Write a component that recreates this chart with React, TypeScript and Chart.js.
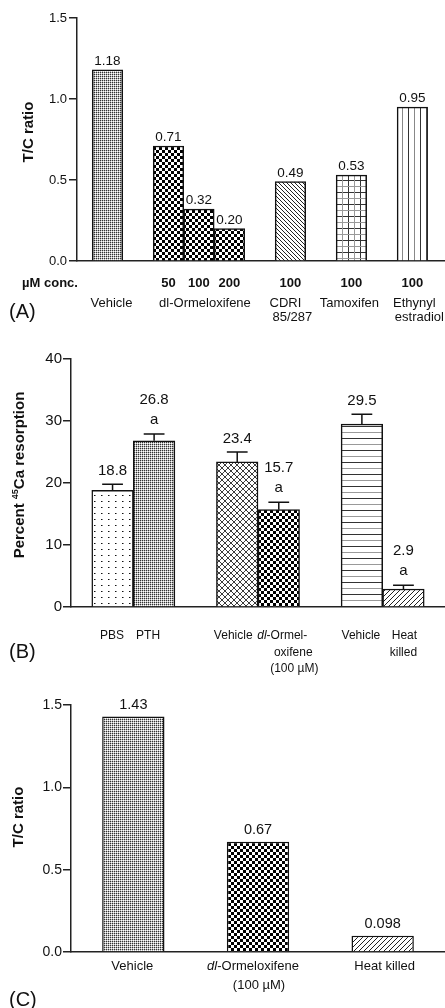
import React, { useEffect, useRef } from 'react';
import { Chart, registerables } from 'chart.js';

Chart.register(...registerables);

const FONT = '"Liberation Sans", Arial, Helvetica, sans-serif';

// ---------- Panel A ----------
const aSlots = [0, 2, 3, 4, 6, 8, 10];
const aValues = [1.18, 0.71, 0.32, 0.2, 0.49, 0.53, 0.95];
const aValueLabels = ['1.18', '0.71', '0.32', '0.20', '0.49', '0.53', '0.95'];
const aConcTitle = 'µM conc.';
const aConc = ['', '50', '100', '200', '100', '100', '100'];
const aPatterns = ['fine', 'checker', 'checker', 'checker', 'backslash', 'grid', 'vlines'];
const aGroupSlots = [0, 3, 6, 8, 10];
const aGroupLines = [['Vehicle'], ['dl-Ormeloxifene'], ['CDRI', '85/287'], ['Tamoxifen'], ['Ethynyl', 'estradiol']];
const aYTicks = [0, 0.5, 1.0, 1.5];
const aYTitle = 'T/C ratio';

// ---------- Panel B ----------
const bSlots = [0, 1, 3, 4, 6, 7];
const bValues = [18.8, 26.8, 23.4, 15.7, 29.5, 2.9];
const bErrors = [1.0, 1.1, 1.6, 1.2, 1.6, 0.6];
const bValueLabels = ['18.8', '26.8', '23.4', '15.7', '29.5', '2.9'];
const bSignif = ['', 'a', '', 'a', '', 'a'];
const bPatterns = ['dots', 'fine', 'cross', 'checker', 'hlines', 'slash'];
const bTickLines = [['PBS'], ['PTH'], ['Vehicle'], ['dl-Ormel-', 'oxifene', '(100 µM)'], ['Vehicle'], ['Heat', 'killed']];
const bYTicks = [0, 10, 20, 30, 40];

// ---------- Panel C ----------
const cCategories = ['Vehicle', 'dl-Ormeloxifene (100 µM)', 'Heat killed'];
const cValues = [1.43, 0.67, 0.098];
const cValueLabels = ['1.43', '0.67', '0.098'];
const cPatterns = ['fine', 'checker', 'slash'];
const cTickLines = [['Vehicle'], ['dl-Ormeloxifene', '(100 µM)'], ['Heat killed']];
const cYTicks = [0, 0.5, 1.0, 1.5];

function makePattern(kind: string): CanvasPattern {
  const dims: Record<string, [number, number]> = {
    fine: [2, 2], checker: [6, 6], cross: [6, 6], dots: [7, 6], backslash: [4, 4],
    slash: [5, 5], grid: [12, 12], vlines: [12, 1], hlines: [1, 12],
  };
  const [w, h] = dims[kind];
  const c = document.createElement('canvas');
  c.width = w; c.height = h;
  const g = c.getContext('2d')!;
  g.fillStyle = '#fff'; g.fillRect(0, 0, w, h);
  const px = (x: number, y: number, col: string) => { g.fillStyle = col; g.fillRect(x, y, 1, 1); };
  switch (kind) {
    case 'fine': px(0, 0, '#333'); px(1, 0, '#bbb'); px(0, 1, '#bbb'); break;
    case 'checker': g.fillStyle = '#000'; g.fillRect(0, 0, 3, 3); g.fillRect(3, 3, 3, 3); break;
    case 'cross': for (let i = 0; i < 6; i++) { px(i, i, '#333'); px(5 - i, i, '#444'); } break;
    case 'dots': px(3, 3, '#111'); px(4, 3, '#888'); break;
    case 'backslash': for (let i = 0; i < 4; i++) px(i, i, '#222'); break;
    case 'slash': for (let i = 0; i < 5; i++) px(4 - i, i, '#222'); break;
    case 'grid':
      g.fillStyle = '#333'; g.fillRect(0, 0, 12, 1); g.fillRect(0, 0, 1, 12);
      g.fillStyle = '#999'; g.fillRect(0, 6, 12, 1); g.fillRect(6, 0, 1, 12); break;
    case 'vlines': px(0, 0, '#333'); px(6, 0, '#888'); break;
    case 'hlines': px(0, 0, '#333'); px(0, 6, '#999'); break;
  }
  return g.createPattern(c, 'repeat')!;
}

function yScale(ticks: number[], min: number, max: number, size: number, width: number, pad: number, fmt: (v: number) => string) {
  return {
    min, max,
    afterFit: (s: any) => { s.width = width; },
    afterBuildTicks: (s: any) => { s.ticks = ticks.map((v) => ({ value: v })); },
    grid: { display: true, drawOnChartArea: false, drawTicks: true, tickLength: 8, color: '#222', lineWidth: 1.5 },
    border: { display: true, color: '#222', width: 1.5 },
    ticks: { font: { family: FONT, size }, color: '#111', padding: pad, callback: (v: any) => fmt(Number(v)) },
  };
}

function drawRich(ctx: CanvasRenderingContext2D, text: string, italicDl: boolean, cx: number, y: number, size: number) {
  const parts: [string, boolean][] = italicDl && text.startsWith('dl') ? [['dl', true], [text.slice(2), false]] : [[text, false]];
  const fonts = parts.map(([, it]) => `${it ? 'italic ' : ''}${size}px ${FONT}`);
  const widths = parts.map(([t], i) => { ctx.font = fonts[i]; return ctx.measureText(t).width; });
  let x = cx - widths.reduce((a, b) => a + b, 0) / 2;
  ctx.textAlign = 'left';
  parts.forEach(([t], i) => { ctx.font = fonts[i]; ctx.fillText(t, x, y); x += widths[i]; });
}

function drawVTitle(ctx: CanvasRenderingContext2D, parts: [string, number, number][], bx: number, cy: number) {
  ctx.save();
  ctx.translate(bx, cy);
  ctx.rotate(-Math.PI / 2);
  ctx.textAlign = 'left';
  ctx.textBaseline = 'alphabetic';
  const widths = parts.map(([t, s]) => { ctx.font = `bold ${s}px ${FONT}`; return ctx.measureText(t).width; });
  let x = -widths.reduce((a, b) => a + b, 0) / 2;
  parts.forEach(([t, s, rise], i) => { ctx.font = `bold ${s}px ${FONT}`; ctx.fillText(t, x, -rise); x += widths[i]; });
  ctx.restore();
}

const commonPlugins = { legend: { display: false }, tooltip: { enabled: false }, title: { display: false } };

function buildA(): any {
  const H = 330, top = 18, bottom = 261;
  const plugin = {
    id: 'aText',
    afterDraw(chart: any) {
      const ctx: CanvasRenderingContext2D = chart.ctx;
      const xs = chart.scales.x;
      const area = chart.chartArea;
      const meta = chart.getDatasetMeta(0);
      ctx.save();
      ctx.fillStyle = '#111';
      ctx.textAlign = 'center';
      ctx.textBaseline = 'alphabetic';
      ctx.font = `13.5px ${FONT}`;
      meta.data.forEach((el: any, i: number) => ctx.fillText(aValueLabels[i], el.x, el.y - 5));
      ctx.textBaseline = 'middle';
      ctx.font = `bold 13px ${FONT}`;
      const rowY = area.bottom + 22;
      ctx.fillText(aConcTitle, 50, rowY);
      aSlots.forEach((s, i) => { if (aConc[i]) ctx.fillText(aConc[i], xs.getPixelForValue(s), rowY); });
      const dx1 = [4, 6, -5, -2, 2];
      const dx2 = [0, 0, 2, 0, 7];
      aGroupSlots.forEach((s, i) => {
        const x = xs.getPixelForValue(s);
        const lines = aGroupLines[i];
        drawRich(ctx, lines[0], false, x + dx1[i], area.bottom + 42, 13);
        if (lines[1]) drawRich(ctx, lines[1], false, x + dx2[i], area.bottom + 56, 13);
      });
      drawVTitle(ctx, [[aYTitle, 15, 0]], 33, 132);
      ctx.font = `20px ${FONT}`;
      ctx.textAlign = 'left';
      ctx.fillText('(A)', 9, 312);
      ctx.restore();
    },
  };
  return {
    H,
    config: {
      type: 'bar',
      data: {
        datasets: [{
          data: aSlots.map((s, i) => ({ x: s, y: aValues[i] })),
          backgroundColor: aPatterns.map(makePattern),
          borderColor: '#111', borderWidth: 1.5,
          barPercentage: 1, categoryPercentage: 1,
        }],
      },
      options: {
        responsive: false, animation: false, devicePixelRatio: 1, events: [],
        layout: { padding: { top, left: 0, right: 0, bottom: 0 } },
        plugins: commonPlugins,
        scales: {
          x: {
            type: 'linear', min: -1, max: 11.07, offset: false,
            afterFit: (s: any) => { s.height = H - bottom; },
            ticks: { display: false }, grid: { display: false },
            border: { display: true, color: '#222', width: 1.5 },
          },
          y: yScale(aYTicks, 0, 1.5, 13, 77, 2, (v) => v.toFixed(1)),
        },
      },
      plugins: [plugin],
    },
  };
}

function buildB(): any {
  const H = 345, top = 29, bottom = 277;
  const plugin = {
    id: 'bText',
    afterDraw(chart: any) {
      const ctx: CanvasRenderingContext2D = chart.ctx;
      const xs = chart.scales.x;
      const ys = chart.scales.y;
      const area = chart.chartArea;
      const meta = chart.getDatasetMeta(0);
      ctx.save();
      ctx.strokeStyle = '#111';
      ctx.lineWidth = 1.5;
      ctx.fillStyle = '#111';
      meta.data.forEach((el: any, i: number) => {
        const t = ys.getPixelForValue(bValues[i] + bErrors[i]);
        const half = el.width / 4;
        ctx.beginPath();
        ctx.moveTo(el.x, el.y); ctx.lineTo(el.x, t);
        ctx.moveTo(el.x - half, t); ctx.lineTo(el.x + half, t);
        ctx.stroke();
        ctx.textAlign = 'center';
        ctx.textBaseline = 'alphabetic';
        ctx.font = `15px ${FONT}`;
        if (bSignif[i]) {
          ctx.fillText(bSignif[i], el.x, t - 10);
          ctx.fillText(bValueLabels[i], el.x, t - 30);
        } else {
          ctx.fillText(bValueLabels[i], el.x, t - 9);
        }
      });
      ctx.textBaseline = 'middle';
      const dxs = [[-0.5], [-6], [-4], [3.5, 14.5, 15.5], [-1], [1, 0]];
      bSlots.forEach((s, i) => {
        const x = xs.getPixelForValue(s);
        bTickLines[i].forEach((line, j) => drawRich(ctx, line, true, x + dxs[i][j], area.bottom + 29 + j * 16.5, 12));
      });
      drawVTitle(ctx, [['Percent ', 15, 0], ['45', 9, 6], ['Ca resorption', 15, 0]], 24, 145);
      ctx.font = `20px ${FONT}`;
      ctx.textAlign = 'left';
      ctx.fillText('(B)', 9, 322);
      ctx.restore();
    },
  };
  return {
    H,
    config: {
      type: 'bar',
      data: {
        datasets: [{
          data: bSlots.map((s, i) => ({ x: s, y: bValues[i] })),
          backgroundColor: bPatterns.map(makePattern),
          borderColor: '#111', borderWidth: 1.5,
          barPercentage: 1, categoryPercentage: 1,
        }],
      },
      options: {
        responsive: false, animation: false, devicePixelRatio: 1, events: [],
        layout: { padding: { top, left: 0, right: 0, bottom: 0 } },
        plugins: commonPlugins,
        scales: {
          x: {
            type: 'linear', min: -1, max: 8, offset: false,
            afterFit: (s: any) => { s.height = H - bottom; },
            ticks: { display: false }, grid: { display: false },
            border: { display: true, color: '#222', width: 1.5 },
          },
          y: yScale(bYTicks, 0, 40, 15, 71, 1, (v) => String(v)),
        },
      },
      plugins: [plugin],
    },
  };
}

function buildC(): any {
  const H = 333, top = 30, bottom = 277;
  const plugin = {
    id: 'cText',
    afterDraw(chart: any) {
      const ctx: CanvasRenderingContext2D = chart.ctx;
      const xs = chart.scales.x;
      const area = chart.chartArea;
      const meta = chart.getDatasetMeta(0);
      ctx.save();
      ctx.fillStyle = '#111';
      ctx.textAlign = 'center';
      ctx.textBaseline = 'alphabetic';
      ctx.font = `14.5px ${FONT}`;
      meta.data.forEach((el: any, i: number) => ctx.fillText(cValueLabels[i], el.x, el.y - 8));
      ctx.textBaseline = 'middle';
      const dxs = [[-1], [-5, 1], [2]];
      cCategories.forEach((_, i) => {
        const x = xs.getPixelForValue(i);
        cTickLines[i].forEach((line, j) => drawRich(ctx, line, true, x + dxs[i][j], area.bottom + 14 + j * 19, 13));
      });
      drawVTitle(ctx, [[aYTitle, 15, 0]], 23, 142);
      ctx.font = `20px ${FONT}`;
      ctx.textAlign = 'left';
      ctx.fillText('(C)', 9, 325);
      ctx.restore();
    },
  };
  return {
    H,
    config: {
      type: 'bar',
      data: {
        labels: cCategories,
        datasets: [{
          data: cValues,
          backgroundColor: cPatterns.map(makePattern),
          borderColor: '#111', borderWidth: 1.5,
          barPercentage: 0.5, categoryPercentage: 1,
        }],
      },
      options: {
        responsive: false, animation: false, devicePixelRatio: 1, events: [],
        layout: { padding: { top, left: 0, right: 0, bottom: 0 } },
        plugins: commonPlugins,
        scales: {
          x: {
            type: 'category', offset: true,
            afterFit: (s: any) => { s.height = H - bottom; },
            ticks: { display: false }, grid: { display: false },
            border: { display: true, color: '#222', width: 1.5 },
          },
          y: yScale(cYTicks, 0, 1.5, 14, 71, 1, (v) => v.toFixed(1)),
        },
      },
      plugins: [plugin],
    },
  };
}

function Panel({ top, build }: { top: number; build: () => any }) {
  const ref = useRef<HTMLCanvasElement>(null);
  const spec = build();
  useEffect(() => {
    const s = build();
    const chart = new Chart(ref.current!, s.config);
    return () => chart.destroy();
  }, []);
  return (
    <canvas
      ref={ref}
      width={445}
      height={spec.H}
      style={{ position: 'absolute', left: 0, top, width: 445, height: spec.H, display: 'block' }}
    />
  );
}

export default function App() {
  return (
    <div style={{ position: 'absolute', left: 0, top: 0, width: 445, height: 1008, background: '#fff', overflow: 'hidden' }}>
      <Panel top={0} build={buildA} />
      <Panel top={330} build={buildB} />
      <Panel top={675} build={buildC} />
    </div>
  );
}
